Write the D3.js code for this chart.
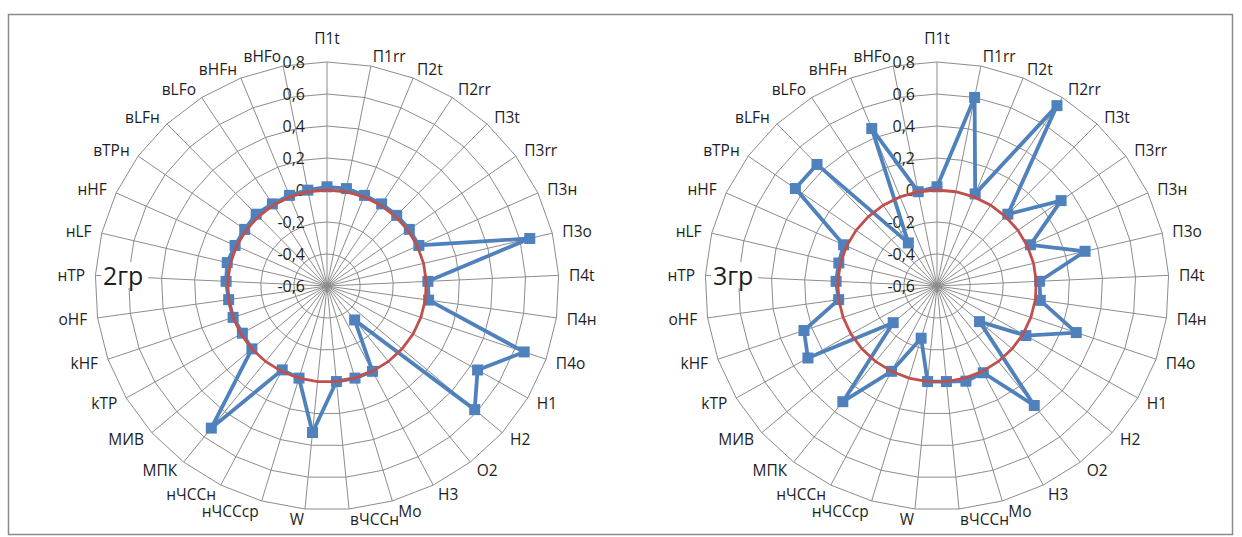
<!DOCTYPE html>
<html>
<head>
<meta charset="utf-8">
<script src="https://cdn.jsdelivr.net/npm/d3@7"></script>
<style>
  body { margin: 0; background: #fff; }
  text { font-family: "Open Sans", sans-serif; fill: #1e1e1e; }
</style>
</head>
<body>
<svg id="chart" width="1242" height="537"></svg>
<script>
const categories = [
  "П1t", "П1rr", "П2t", "П2rr", "П3t", "П3rr", "П3н", "П3о", "П4t", "П4н", "П4о",
  "Н1", "Н2", "О2", "Н3", "Мо", "вЧССн", "W", "нЧССср", "нЧССн", "МПК", "МИВ",
  "kТР", "kHF", "oHF", "нТР", "нLF", "нHF", "вТРн", "вLFн", "вLFо", "вHFн", "вHFо"
];
const group2 = [
  0.02, 0.02, 0.01, 0.01, 0.01, 0.01, 0.01, 0.66, 0.01, 0.02, 0.66,
  0.45, 0.58, -0.33, 0.0, 0.0, 0.0, 0.32, 0.0, -0.01, 0.53, 0.0,
  -0.01, 0.0, 0.0, 0.01, 0.02, 0.01, 0.01, 0.02, 0.01, 0.01, 0.01
];
const group3 = [
  0.02, 0.60, 0.02, 0.74, 0.02, 0.32, 0.02, 0.32, 0.02, 0.03, 0.29,
  0.02, -0.26, 0.35, 0.01, 0.02, 0.0, 0.0, -0.26, 0.0, 0.32, -0.25,
  0.30, 0.25, 0.0, 0.01, 0.01, 0.02, 0.45, 0.45, -0.28, 0.46, 0.0
];
const zeroLine = [
  0, 0, 0, 0, 0, 0, 0, 0, 0, 0, 0,
  0, 0, 0, 0, 0, 0, 0, 0, 0, 0, 0,
  0, 0, 0, 0, 0, 0, 0, 0, 0, 0, 0
];
const tickValues = [0.8, 0.6, 0.4, 0.2, 0, -0.2, -0.4, -0.6];
const panelTitles = ["2гр", "3гр"];

const CY = 286;
const RADIUS = 224;
const SX = 1.035; // source picture is a little wider than tall
const BLUE = "#4F81BD";
const RED = "#C0504D";
const GRID = "#8c8c8c";

const r = d3.scaleLinear().domain([-0.6, 0.8]).range([0, RADIUS]);
const angle = d3
  .scalePoint()
  .domain(categories)
  .range([0, (2 * Math.PI * (categories.length - 1)) / categories.length]);

const tickFormat = d => String(d).replace(".", ",");

const svg = d3.select("#chart");

svg
  .append("rect")
  .attr("x", 8.5)
  .attr("y", 14.5)
  .attr("width", 1224)
  .attr("height", 520)
  .attr("fill", "none")
  .attr("stroke", "#8a8a8a")
  .attr("stroke-width", 1.5);

const drawRadar = function(cx, title, values) {
  const px = (name, v) => cx + SX * r(v) * Math.sin(angle(name));
  const py = (name, v) => CY - r(v) * Math.cos(angle(name));
  const g = svg.append("g").attr("class", "radar");

  const ringLevels = tickValues.filter(t => t > -0.6);
  const ring = d3
    .line()
    .x(c => c.x)
    .y(c => c.y)
    .curve(d3.curveLinearClosed);

  g.selectAll(".ring")
    .data(ringLevels)
    .enter()
    .append("path")
    .attr("class", "ring")
    .attr("d", v => ring(categories.map(c => ({ x: px(c, v), y: py(c, v) }))))
    .attr("fill", "none")
    .attr("stroke", GRID)
    .attr("stroke-width", 1);

  g.selectAll(".spoke")
    .data(categories)
    .enter()
    .append("line")
    .attr("class", "spoke")
    .attr("x1", cx)
    .attr("y1", CY)
    .attr("x2", c => px(c, 0.8))
    .attr("y2", c => py(c, 0.8))
    .attr("stroke", GRID)
    .attr("stroke-width", 1);

  // category labels
  g.selectAll(".cat")
    .data(categories)
    .enter()
    .append("text")
    .attr("class", "cat")
    .attr("font-size", 15.5)
    .attr("dominant-baseline", "central")
    .each(function(c) {
      const a = angle(c);
      const ux = Math.sin(a);
      const uy = -Math.cos(a);
      const pad = Math.abs(ux) < 0.05 ? 24 : 10;
      const rr = RADIUS + pad;
      d3.select(this)
        .attr("x", cx + SX * rr * ux + (ux > 0.25 && uy > 0.9 ? 3 : 0))
        .attr("y", CY + rr * uy)
        .attr("text-anchor", ux > 0.05 ? "start" : ux < -0.05 ? "end" : "middle");
    })
    .text(c => c);

  // value axis labels
  g.selectAll(".tick")
    .data(tickValues)
    .enter()
    .append("text")
    .attr("class", "tick")
    .attr("font-size", 16)
    .attr("x", cx - 22)
    .attr("y", v => CY - r(v))
    .attr("text-anchor", "end")
    .attr("dominant-baseline", "central")
    .text(tickFormat);

  // group title on a white box
  g.append("rect")
    .attr("x", cx - 226)
    .attr("y", 262)
    .attr("width", 47)
    .attr("height", 26)
    .attr("fill", "#fff");
  g.append("text")
    .attr("x", cx - 224)
    .attr("y", 275)
    .attr("font-size", 25)
    .attr("dominant-baseline", "central")
    .text(title);

  const rows = categories.map((c, i) => ({ name: c, value: values[i], zero: zeroLine[i] }));

  const blueLine = d3
    .line()
    .x(d => px(d.name, d.value))
    .y(d => py(d.name, d.value))
    .curve(d3.curveLinearClosed);

  g.append("path")
    .attr("d", blueLine(rows))
    .attr("fill", "none")
    .attr("stroke", BLUE)
    .attr("stroke-width", 3.8)
    .attr("stroke-linejoin", "round");

  g.selectAll(".marker")
    .data(rows)
    .enter()
    .append("rect")
    .attr("class", "marker")
    .attr("x", d => px(d.name, d.value) - 5.5)
    .attr("y", d => py(d.name, d.value) - 5.5)
    .attr("width", 11)
    .attr("height", 11)
    .attr("fill", BLUE);

  const redLine = d3
    .line()
    .x(d => px(d.name, d.zero))
    .y(d => py(d.name, d.zero))
    .curve(d3.curveLinearClosed);

  g.append("path")
    .attr("d", redLine(rows))
    .attr("fill", "none")
    .attr("stroke", RED)
    .attr("stroke-width", 2.8);
};

drawRadar(327, panelTitles[0], group2);
drawRadar(937, panelTitles[1], group3);
</script>
</body>
</html>
